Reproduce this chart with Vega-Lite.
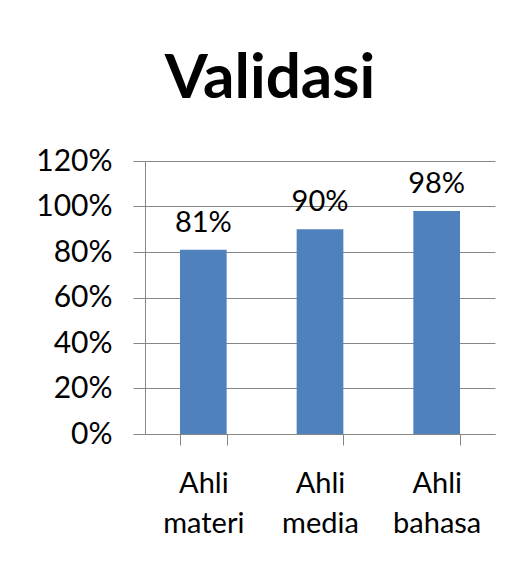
{
  "$schema": "https://vega.github.io/schema/vega-lite/v6.json",
  "width": 350,
  "height": 273,
  "autosize": "none",
  "padding": {"left": 145, "top": 161, "right": 28, "bottom": 129},
  "background": "white",
  "title": {
    "text": "Validasi",
    "font": "Lato",
    "fontSize": 62,
    "fontWeight": "bold",
    "color": "#000000",
    "anchor": "middle",
    "dx": -50,
    "offset": 35
  },
  "data": {
    "values": [
      {"kategori": "Ahli materi", "nilai": 0.81},
      {"kategori": "Ahli media", "nilai": 0.90},
      {"kategori": "Ahli bahasa", "nilai": 0.98}
    ]
  },
  "encoding": {
    "x": {
      "field": "kategori",
      "type": "nominal",
      "sort": null,
      "scale": {"paddingInner": 0.6, "paddingOuter": 0.3},
      "axis": {
        "title": null,
        "labelAngle": 0,
        "labelExpr": "split(datum.label, ' ')",
        "labelFont": "Lato",
        "labelFontSize": 29,
        "labelLineHeight": 40,
        "labelColor": "#000000",
        "labelPadding": 24,
        "tickBand": "extent",
        "tickSize": 11,
        "tickColor": "#868686",
        "domainColor": "#868686",
        "grid": false
      }
    },
    "y": {
      "field": "nilai",
      "type": "quantitative",
      "scale": {"domain": [0, 1.2], "nice": false},
      "axis": {
        "title": null,
        "values": [0, 0.2, 0.4, 0.6, 0.8, 1.0, 1.2],
        "format": ".0%",
        "labelFont": "Lato",
        "labelFontSize": 30,
        "labelColor": "#000000",
        "labelPadding": 21,
        "tickSize": 12,
        "tickColor": "#868686",
        "domainColor": "#868686",
        "grid": true,
        "gridColor": "#868686",
        "gridOpacity": 1
      }
    }
  },
  "layer": [
    {"mark": {"type": "bar", "color": "#4F81BD"}},
    {
      "mark": {"type": "text", "baseline": "alphabetic", "dy": -18, "font": "Lato", "fontSize": 29, "color": "#000000"},
      "encoding": {"text": {"field": "nilai", "format": ".0%"}}
    }
  ],
  "config": {"view": {"stroke": null}}
}
